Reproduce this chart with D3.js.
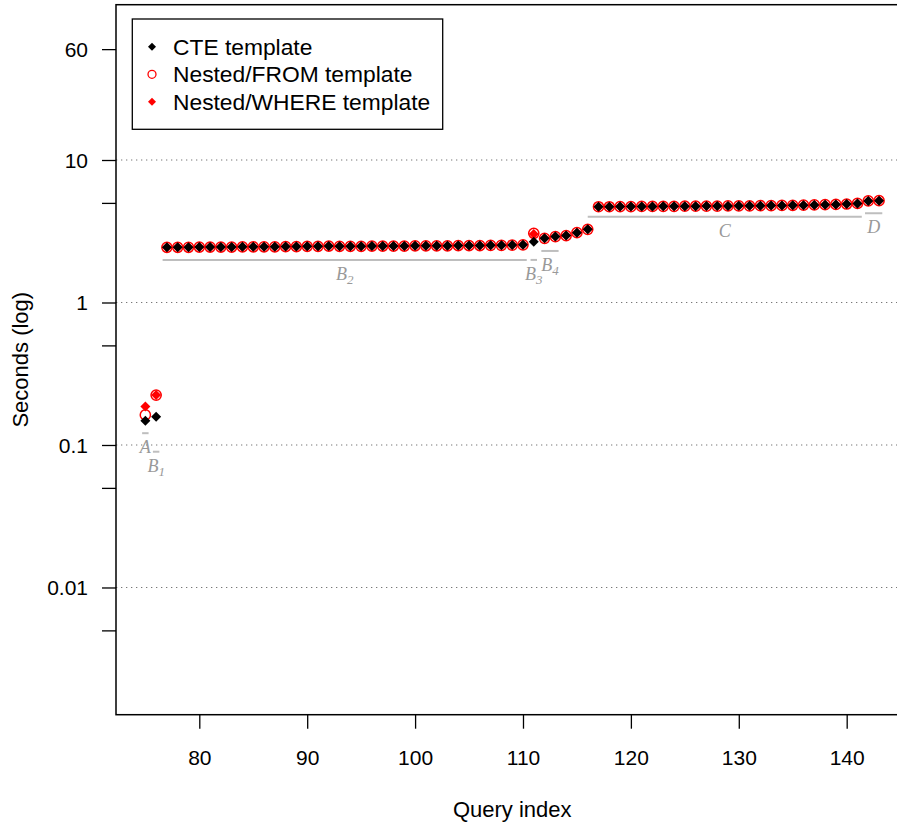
<!DOCTYPE html>
<html>
<head>
<meta charset="utf-8">
<script src="https://cdn.jsdelivr.net/npm/d3@7"></script>
<style>
  body { margin: 0; background: #fff; }
  svg { display: block; font-family: "Liberation Sans", Arial, sans-serif; }
</style>
</head>
<body>
<div id="chart"></div>
<script>
'use strict';

// query indices on the x axis
var queryIndex = [75, 76, 77, 78, 79, 80, 81, 82, 83, 84, 85, 86, 87, 88, 89, 90, 91, 92, 93, 94,
  95, 96, 97, 98, 99, 100, 101, 102, 103, 104, 105, 106, 107, 108, 109, 110, 111, 112, 113, 114,
  115, 116, 117, 118, 119, 120, 121, 122, 123, 124, 125, 126, 127, 128, 129, 130, 131, 132, 133,
  134, 135, 136, 137, 138, 139, 140, 141, 142, 143];

// seconds per query, one list per template
var cteSeconds = [0.148, 0.158,
  2.44, 2.44, 2.44, 2.45, 2.45, 2.45, 2.45, 2.46, 2.46, 2.46,
  2.46, 2.47, 2.47, 2.48, 2.48, 2.49, 2.48, 2.48, 2.48, 2.49,
  2.49, 2.49, 2.49, 2.50, 2.50, 2.50, 2.50, 2.51, 2.51, 2.51,
  2.52, 2.52, 2.53, 2.54,
  2.67, 2.82, 2.90, 2.95, 3.09, 3.26,
  4.70, 4.70, 4.71, 4.71, 4.72, 4.72, 4.73, 4.73, 4.74, 4.74,
  4.75, 4.75, 4.76, 4.77, 4.77, 4.78, 4.79, 4.80, 4.81, 4.82,
  4.84, 4.86, 4.88, 4.91, 4.96,
  5.16, 5.18];

var fromSeconds = [0.1625, 0.224,
  2.44, 2.44, 2.44, 2.45, 2.45, 2.45, 2.45, 2.46, 2.46, 2.46,
  2.46, 2.47, 2.47, 2.48, 2.48, 2.49, 2.48, 2.48, 2.48, 2.49,
  2.49, 2.49, 2.49, 2.50, 2.50, 2.50, 2.50, 2.51, 2.51, 2.51,
  2.52, 2.52, 2.53, 2.54,
  3.06, 2.82, 2.90, 2.95, 3.09, 3.26,
  4.70, 4.70, 4.71, 4.71, 4.72, 4.72, 4.73, 4.73, 4.74, 4.74,
  4.75, 4.75, 4.76, 4.77, 4.77, 4.78, 4.79, 4.80, 4.81, 4.82,
  4.84, 4.86, 4.88, 4.91, 4.96,
  5.16, 5.18];

var whereSeconds = [0.186, 0.224,
  2.44, 2.44, 2.44, 2.45, 2.45, 2.45, 2.45, 2.46, 2.46, 2.46,
  2.46, 2.47, 2.47, 2.48, 2.48, 2.49, 2.48, 2.48, 2.48, 2.49,
  2.49, 2.49, 2.49, 2.50, 2.50, 2.50, 2.50, 2.51, 2.51, 2.51,
  2.52, 2.52, 2.53, 2.54,
  3.02, 2.82, 2.90, 2.95, 3.09, 3.26,
  4.70, 4.70, 4.71, 4.71, 4.72, 4.72, 4.73, 4.73, 4.74, 4.74,
  4.75, 4.75, 4.76, 4.77, 4.77, 4.78, 4.79, 4.80, 4.81, 4.82,
  4.84, 4.86, 4.88, 4.91, 4.96,
  5.16, 5.18];

// query groups marked under the points
var groupName = ['A', 'B', 'B', 'B', 'B', 'C', 'D'];
var groupSub = ['', '1', '2', '3', '4', '', ''];
var groupStart = [74.7, 75.7, 76.6, 110.7, 111.7, 116.0, 141.7];
var groupEnd = [75.3, 76.3, 110.35, 111.3, 113.3, 141.4, 143.3];
var groupLevel = [0.121, 0.0897, 1.99, 1.99, 2.30, 4.00, 4.23];

// axis ticks
var xTicks = [80, 90, 100, 110, 120, 130, 140];
var yTicks = [0.005, 0.01, 0.05, 0.1, 0.5, 1, 5, 10, 60];
var yTickLabels = ['', '0.01', '', '0.1', '', '1', '', '10', '60'];
var yGrid = [0.01, 0.1, 1, 10];

var legendLabels = ['CTE template', 'Nested/FROM template', 'Nested/WHERE template'];

var W = 897, H = 825;
var plot = {left: 116, right: 908.4, top: 4.7, bottom: 714.7};

var svg = d3.select('#chart').append('svg')
  .attr('width', W)
  .attr('height', H);

var x = d3.scaleLinear()
  .domain([72.28, 145.72])
  .range([plot.left, plot.right]);

var y = d3.scaleLog()
  .domain([0.00128, 123])
  .range([plot.bottom, plot.top]);

// dotted grid
svg.append('g').selectAll('line')
  .data(yGrid)
  .enter().append('line')
  .attr('x1', plot.left)
  .attr('x2', plot.right)
  .attr('y1', function(d) { return y(d); })
  .attr('y2', function(d) { return y(d); })
  .attr('stroke', '#777')
  .attr('stroke-width', 1.2)
  .attr('stroke-dasharray', '1.3,3.7');

// axes
var xAxis = svg.append('g')
  .attr('transform', 'translate(0,' + plot.bottom + ')')
  .call(d3.axisBottom(x).tickValues(xTicks).tickSize(14).tickPadding(21).tickFormat(d3.format('d')));
xAxis.select('.domain').remove();
xAxis.selectAll('line').attr('stroke', '#000').attr('stroke-width', 1.3);
xAxis.selectAll('text').attr('fill', '#000').style('font-size', '21px')
  .style('font-family', '"Liberation Sans", Arial, sans-serif');

var yAxis = svg.append('g')
  .attr('transform', 'translate(' + plot.left + ',0)')
  .call(d3.axisLeft(y).tickValues(yTicks).tickSize(14).tickPadding(14)
    .tickFormat(function(d, i) { return yTickLabels[i]; }));
yAxis.select('.domain').remove();
yAxis.selectAll('line').attr('stroke', '#000').attr('stroke-width', 1.3);
yAxis.selectAll('text').attr('fill', '#000').attr('dy', '0.34em').style('font-size', '21px')
  .style('font-family', '"Liberation Sans", Arial, sans-serif');

// plot frame
svg.append('rect')
  .attr('x', plot.left)
  .attr('y', plot.top)
  .attr('width', plot.right - plot.left)
  .attr('height', plot.bottom - plot.top)
  .attr('fill', 'none')
  .attr('stroke', '#000')
  .attr('stroke-width', 1.5);

// axis titles
svg.append('text')
  .attr('x', (plot.left + plot.right) / 2)
  .attr('y', 817)
  .attr('text-anchor', 'middle')
  .style('font-size', '22px')
  .text('Query index');

svg.append('text')
  .attr('transform', 'translate(28,' + ((plot.top + plot.bottom) / 2) + ') rotate(-90)')
  .attr('text-anchor', 'middle')
  .style('font-size', '22px')
  .text('Seconds (log)');

// group markers
var groups = groupName.map(function(n, i) {
  return {name: n, sub: groupSub[i], x0: groupStart[i], x1: groupEnd[i], v: groupLevel[i]};
});

var gg = svg.append('g');
gg.selectAll('line')
  .data(groups)
  .enter().append('line')
  .attr('x1', function(d) { return x(d.x0); })
  .attr('x2', function(d) { return x(d.x1); })
  .attr('y1', function(d) { return y(d.v); })
  .attr('y2', function(d) { return y(d.v); })
  .attr('stroke', '#bebebe')
  .attr('stroke-width', 2);

var gl = gg.selectAll('text')
  .data(groups)
  .enter().append('text')
  .attr('x', function(d) { return x((d.x0 + d.x1) / 2); })
  .attr('y', function(d) { return y(d.v) + 20; })
  .attr('text-anchor', 'middle')
  .attr('fill', '#999')
  .style('font-family', '"Liberation Serif", "Times New Roman", serif')
  .style('font-style', 'italic')
  .style('font-size', '18px');
gl.append('tspan').text(function(d) { return d.name; });
gl.append('tspan')
  .attr('dy', 4)
  .style('font-size', '13px')
  .text(function(d) { return d.sub; });

// symbols
function diamond(r) {
  return 'M0,' + (-r) + 'L' + r + ',0L0,' + r + 'L' + (-r) + ',0Z';
}

function pts(vals) {
  return queryIndex.map(function(q, i) { return {q: q, v: vals[i]}; });
}

var marks = svg.append('g');

marks.append('g').selectAll('path')
  .data(pts(whereSeconds))
  .enter().append('path')
  .attr('transform', function(d) { return 'translate(' + x(d.q) + ',' + y(d.v) + ')'; })
  .attr('d', diamond(5))
  .attr('fill', '#ff0000');

marks.append('g').selectAll('circle')
  .data(pts(fromSeconds))
  .enter().append('circle')
  .attr('cx', function(d) { return x(d.q); })
  .attr('cy', function(d) { return y(d.v); })
  .attr('r', 5.1)
  .attr('fill', 'none')
  .attr('stroke', '#ff0000')
  .attr('stroke-width', 1.5);

marks.append('g').selectAll('path')
  .data(pts(cteSeconds))
  .enter().append('path')
  .attr('transform', function(d) { return 'translate(' + x(d.q) + ',' + y(d.v) + ')'; })
  .attr('d', diamond(5))
  .attr('fill', '#000');

// legend
var legend = svg.append('g');
legend.append('rect')
  .attr('x', 132.3)
  .attr('y', 19)
  .attr('width', 310.4)
  .attr('height', 110.3)
  .attr('fill', '#fff')
  .attr('stroke', '#000')
  .attr('stroke-width', 1.3);

var row = legend.selectAll('.row')
  .data(legendLabels)
  .enter().append('g')
  .attr('class', 'row')
  .attr('transform', function(d, i) { return 'translate(152,' + (46.8 + i * 27.5) + ')'; });

row.each(function(d, i) {
  var r = d3.select(this);
  if (i === 1) {
    r.append('circle').attr('r', 4).attr('fill', 'none')
      .attr('stroke', '#ff0000').attr('stroke-width', 1.3);
  } else {
    r.append('path').attr('d', diamond(4)).attr('fill', i === 0 ? '#000' : '#ff0000');
  }
});

row.append('text')
  .attr('x', 21)
  .attr('dy', '0.35em')
  .style('font-size', '22.8px')
  .text(function(d) { return d; });
</script>
</body>
</html>
